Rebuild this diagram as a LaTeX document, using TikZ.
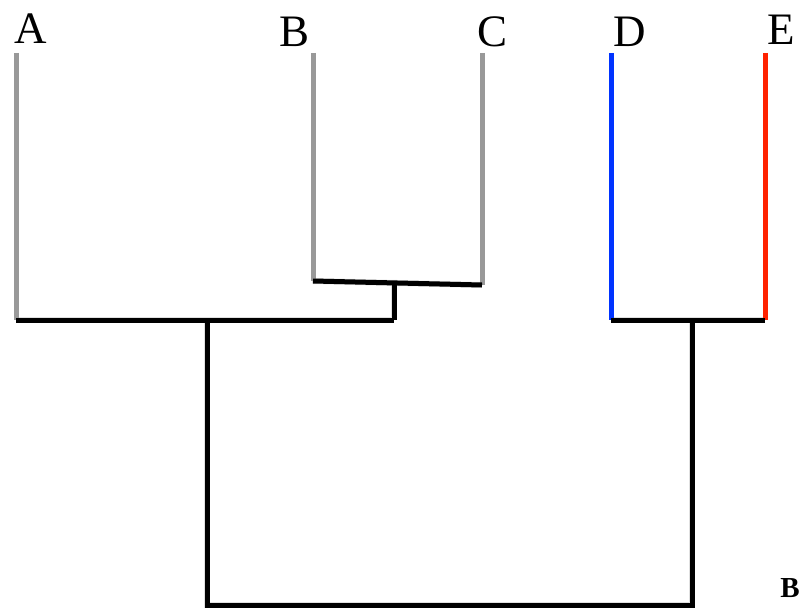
\documentclass[tikz,border=0pt]{standalone}
\usepackage{fontspec}
\setmainfont{Liberation Serif}
\begin{document}
\begin{tikzpicture}[x=1pt,y=-1pt,
  leaf/.style={line width=5pt,line cap=butt},
  branch/.style={line width=5pt,black,line cap=butt},
  shade/.style={line width=6pt,black!12,line cap=butt,shift={(2,2)}},
  taxon/.style={font=\fontsize{45}{45}\selectfont,inner sep=0pt,anchor=base},
  panel/.style={font=\bfseries\fontsize{29}{29}\selectfont,inner sep=0pt,anchor=base}]
\useasboundingbox (0,0) rectangle (805,610);
% tips
\coordinate (tA) at (16,53);
\coordinate (tB) at (313,53);
\coordinate (tC) at (482,53);
\coordinate (tD) at (611,53);
\coordinate (tE) at (765,53);
% internal joints
\coordinate (bB) at (313,281);
\coordinate (bC) at (482,285);
\coordinate (bcTop) at (394,283);
\coordinate (bcBot) at (394,320);
\coordinate (bA) at (16,320);
\coordinate (abcTop) at (207,320);
\coordinate (abcBot) at (207,605);
\coordinate (bD) at (611,320);
\coordinate (bE) at (765,320);
\coordinate (deTop) at (692,320);
\coordinate (deBot) at (692,605);
% labels (placed by baseline)
\node[taxon] (lA) at (31,44) {A};
\node[taxon] (lB) at (295,47) {B};
\node[taxon] (lC) at (492,47) {C};
\node[taxon] (lD) at (630,47) {D};
\node[taxon] (lE) at (781,45) {E};
\node[panel] (panelB) at (790,597) {B};
% soft shadows under the branches
\draw[shade] (bB) -- (bC);
\draw[shade] (bcTop) -- (bcBot);
\draw[shade] (bA) -- (bcBot);
\draw[shade] (abcTop) -- (abcBot) -- (deBot) -- (deTop);
\draw[shade] (bD) -- (bE);
% leaves
\draw[leaf,gray!80] (tA) -- (bA);
\draw[leaf,gray!80] (tB) -- (bB);
\draw[leaf,gray!80] (tC) -- (bC);
\draw[leaf,color={rgb,255:red,0;green,51;blue,255}] (tD) -- (bD);
\draw[leaf,color={rgb,255:red,255;green,34;blue,0}] (tE) -- (bE);
% internal branches
\draw[branch] (bB) -- (bC);
\draw[branch] (bcTop) -- (bcBot);
\draw[branch] (bA) -- (bcBot);
\draw[branch,line join=miter] (abcTop) -- (abcBot) -- (deBot) -- (deTop);
\draw[branch] (bD) -- (bE);
\end{tikzpicture}
\end{document}
